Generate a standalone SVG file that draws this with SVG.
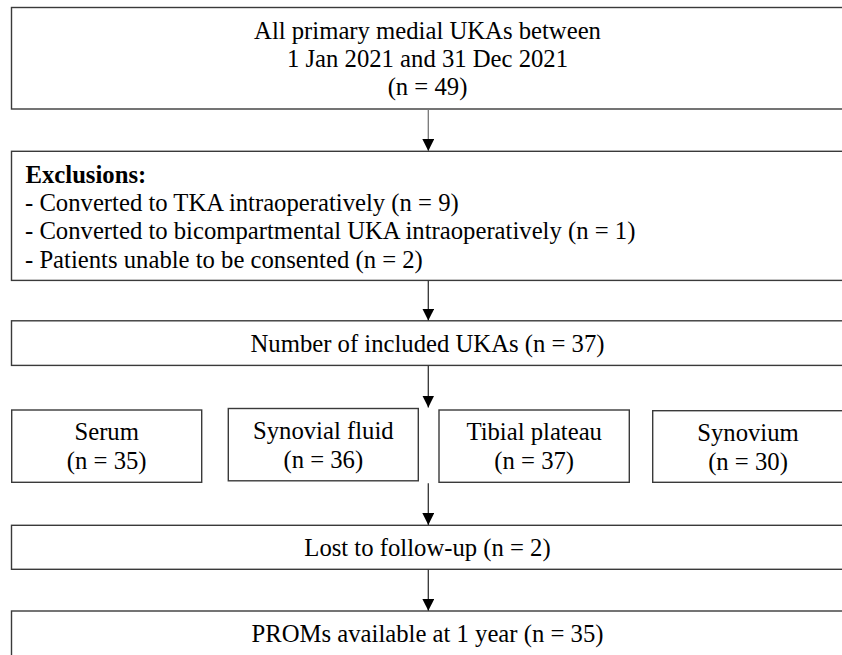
<svg xmlns="http://www.w3.org/2000/svg" width="842" height="655" viewBox="0 0 842 655">
<style>
.box{fill:#fff;stroke:#3a3a3a;stroke-width:1.4}
.t{font-family:"Liberation Serif","Times New Roman",serif;font-size:24.7px;fill:#000}
.c{text-anchor:middle}
.b{font-weight:bold}
.conn{stroke:#333;stroke-width:1.3;fill:none}
</style>
<defs>
<marker id="ah" markerUnits="userSpaceOnUse" markerWidth="12" markerHeight="12" viewBox="0 0 12 12" refX="12" refY="6" orient="auto">
<path d="M0,0 L12,6 L0,12 Z" fill="#000"/>
</marker>
</defs>
<rect width="842" height="655" fill="#fff"/>
<g id="n-all">
<rect class="box" x="11.5" y="7.5" width="833" height="101.5"/>
<text class="t c" x="427.5" y="39">All primary medial UKAs between</text>
<text class="t c" x="427.5" y="67.2">1 Jan 2021 and 31 Dec 2021</text>
<text class="t c" x="427.5" y="95.4">(n = 49)</text>
</g>
<g id="n-excl">
<rect class="box" x="11.5" y="151.3" width="833" height="129.1"/>
<text class="t b" x="25.5" y="183">Exclusions:</text>
<text class="t" x="25" y="211">- Converted to TKA intraoperatively (n = 9)</text>
<text class="t" x="25" y="239.3">- Converted to bicompartmental UKA intraoperatively (n = 1)</text>
<text class="t" x="25" y="267.5">- Patients unable to be consented (n = 2)</text>
</g>
<g id="n-incl">
<rect class="box" x="11.5" y="320.8" width="833" height="44.6"/>
<text class="t c" x="427.5" y="351.5">Number of included UKAs (n = 37)</text>
</g>
<g id="n-serum">
<rect class="box" x="11.7" y="410" width="190" height="72.3"/>
<text class="t c" x="106.7" y="440">Serum</text>
<text class="t c" x="106.7" y="469">(n = 35)</text>
</g>
<g id="n-synfluid">
<rect class="box" x="228.3" y="408.5" width="190" height="72.3"/>
<text class="t c" x="323.3" y="438.5">Synovial fluid</text>
<text class="t c" x="323.3" y="467.5">(n = 36)</text>
</g>
<g id="n-tibial">
<rect class="box" x="439" y="410" width="190.3" height="72.3"/>
<text class="t c" x="534.2" y="440">Tibial plateau</text>
<text class="t c" x="534.2" y="469">(n = 37)</text>
</g>
<g id="n-synovium">
<rect class="box" x="652.7" y="410.7" width="190.5" height="71.6"/>
<text class="t c" x="748" y="440.5">Synovium</text>
<text class="t c" x="748" y="469.5">(n = 30)</text>
</g>
<g id="n-lost">
<rect class="box" x="11.5" y="525.3" width="833" height="44"/>
<text class="t c" x="427.5" y="556">Lost to follow-up (n = 2)</text>
</g>
<g id="n-proms">
<rect class="box" x="11.5" y="611" width="833" height="60"/>
<text class="t c" x="427.5" y="642">PROMs available at 1 year (n = 35)</text>
</g>
<g id="connectors">
<line class="conn" x1="428.3" y1="109" x2="428.3" y2="151" stroke="#777" style="stroke:#777" marker-end="url(#ah)"/>
<line class="conn" x1="428.3" y1="280.4" x2="428.3" y2="320.6" marker-end="url(#ah)"/>
<line class="conn" x1="428.3" y1="365.4" x2="428.3" y2="407.5" marker-end="url(#ah)"/>
<line class="conn" x1="428.3" y1="483.3" x2="428.3" y2="525" marker-end="url(#ah)"/>
<line class="conn" x1="428.3" y1="569.3" x2="428.3" y2="610.8" marker-end="url(#ah)"/>
</g>
</svg>
